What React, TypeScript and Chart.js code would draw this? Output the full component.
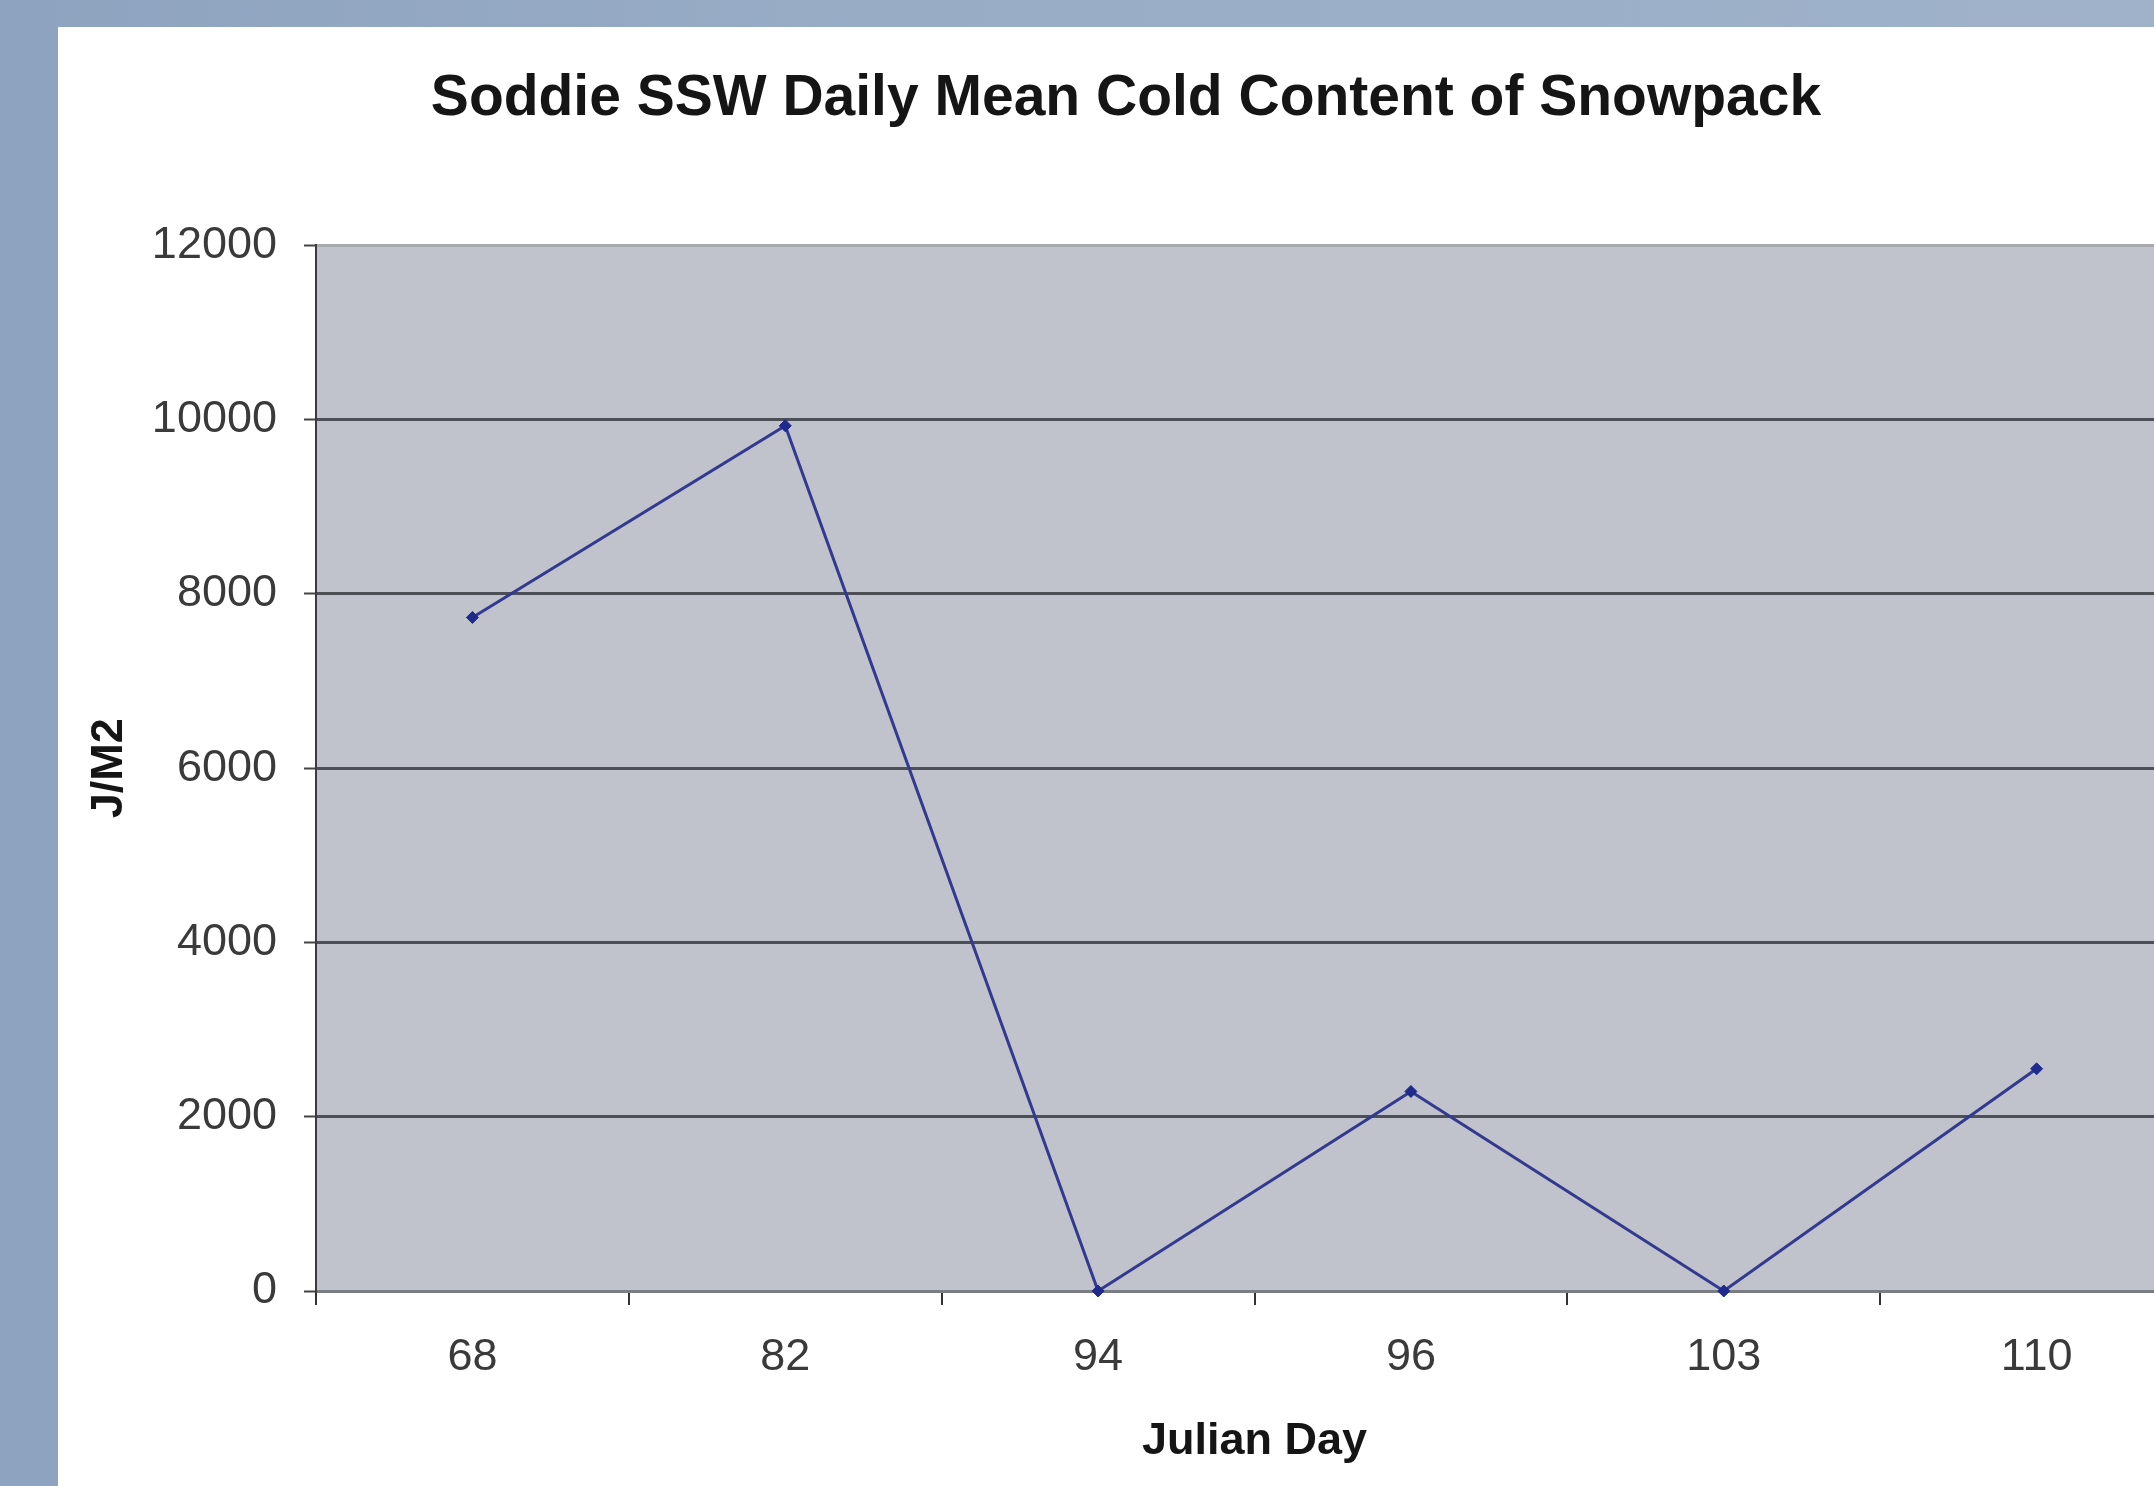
import React, { useEffect, useRef } from "react";
import { Chart, registerables } from "chart.js";

Chart.register(...registerables);

const chartTitle = "Soddie SSW Daily Mean Cold Content of Snowpack";
const xAxisTitle = "Julian Day";
const yAxisTitle = "J/M2";
const categories = ["68", "82", "94", "96", "103", "110"];
const coldContent = [7730, 9930, 0, 2290, 0, 2550];
const yMin = 0;
const yMax = 12000;
const yStep = 2000;

const FONT = "'Liberation Sans', Arial, Helvetica, sans-serif";

const plotBackground = {
  id: "plotBackground",
  beforeDraw(chart: any) {
    const { ctx, chartArea } = chart;
    if (!chartArea) return;
    ctx.save();
    ctx.fillStyle = "#c0c3cb";
    ctx.fillRect(chartArea.left, chartArea.top, chartArea.right - chartArea.left, chartArea.bottom - chartArea.top);
    ctx.restore();
  },
};

export default function App() {
  const canvasRef = useRef<HTMLCanvasElement | null>(null);

  useEffect(() => {
    const canvas = canvasRef.current;
    if (!canvas) return;
    const chart = new Chart(canvas, {
      type: "line",
      data: {
        labels: categories,
        datasets: [
          {
            label: "Cold Content",
            data: coldContent,
            borderColor: "#33398f",
            borderWidth: 3,
            backgroundColor: "#1e2a8c",
            pointBackgroundColor: "#1e2a8c",
            pointBorderColor: "#1e2a8c",
            pointStyle: "rectRot",
            pointRadius: 6,
            pointBorderWidth: 1,
            tension: 0,
            fill: false,
            clip: false as any,
          },
        ],
      },
      plugins: [plotBackground],
      options: {
        animation: false,
        responsive: false,
        maintainAspectRatio: false,
        devicePixelRatio: 1,
        layout: { padding: { left: 0, right: 6, top: 0, bottom: 0 } },
        plugins: {
          legend: { display: false },
          tooltip: { enabled: false },
          title: {
            display: true,
            text: chartTitle,
            color: "#151515",
            font: { family: FONT, size: 57, weight: "bold" },
            padding: { top: 38, bottom: 112 },
          },
        },
        scales: {
          x: {
            type: "category",
            offset: true,
            grid: {
              display: true,
              offset: true,
              drawOnChartArea: false,
              drawTicks: true,
              tickLength: 14,
              tickColor: "#333333",
              lineWidth: 2,
            },
            border: { display: true, color: "#7a7d84", width: 3 },
            ticks: {
              color: "#3a3a3a",
              font: { family: FONT, size: 45 },
              padding: 26,
              maxRotation: 0,
              autoSkip: false,
            },
            title: {
              display: true,
              text: xAxisTitle,
              color: "#151515",
              font: { family: FONT, size: 45, weight: "bold" },
              padding: { top: 0, bottom: 17 },
            },
            afterFit(scale: any) {
              scale.height = 195;
            },
          },
          y: {
            type: "linear",
            min: yMin,
            max: yMax,
            ticks: {
              stepSize: yStep,
              color: "#3a3a3a",
              font: { family: FONT, size: 45 },
              padding: 27,
              callback: (value: any) => String(value),
            },
            grid: {
              color: (ctx: any) => {
                const v = ctx.tick ? ctx.tick.value : 0;
                if (v === yMax) return "#a9aaae";
                if (v === yMin) return "#7a7d84";
                return "#4c4f55";
              },
              lineWidth: 3,
              drawTicks: true,
              tickLength: 12,
              tickColor: "#444444",
              tickWidth: 2,
            },
            border: { display: true, color: "#3c3c3c", width: 2 },
            title: {
              display: true,
              text: yAxisTitle,
              color: "#151515",
              font: { family: FONT, size: 45, weight: "bold" },
              padding: { top: 25, bottom: 0 },
            },
            afterFit(scale: any) {
              scale.width = 258;
            },
          },
        },
      },
    });
    return () => chart.destroy();
  }, []);

  return (
    <div
      style={{
        position: "fixed",
        left: 0,
        top: 0,
        width: 2154,
        height: 1486,
        overflow: "hidden",
        background: "linear-gradient(90deg, #8ea3bf 0%, #98acc6 40%, #9fb2ca 100%)",
      }}
    >
      <div
        style={{
          position: "absolute",
          left: 58,
          top: 27,
          width: 2200,
          height: 1459,
          background: "#ffffff",
        }}
      >
        <canvas ref={canvasRef} width={2142} height={1459} style={{ display: "block", width: 2142, height: 1459 }} />
      </div>
    </div>
  );
}
